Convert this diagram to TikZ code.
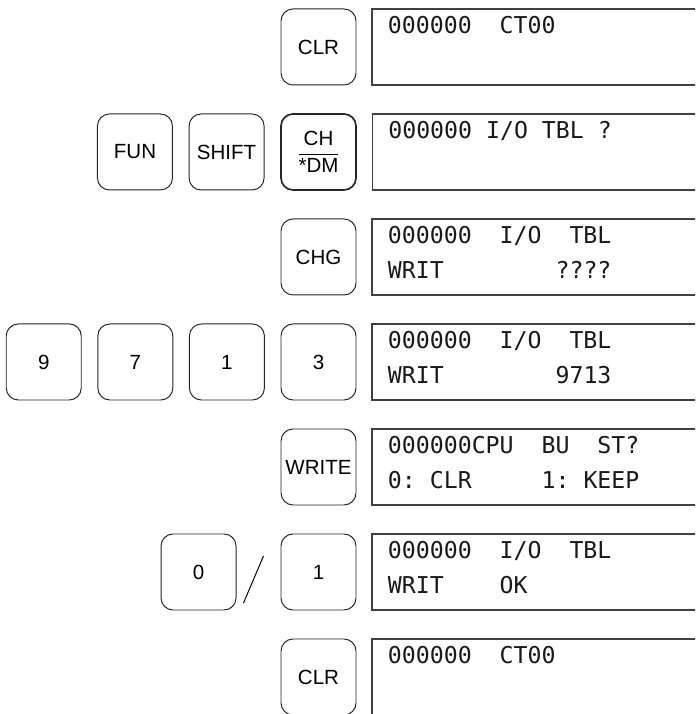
\documentclass[tikz,border=0pt]{standalone}
\usepackage{amsmath}
\usepackage{fontspec}
\setmainfont{Liberation Sans}
\newfontfamily\lcdfont{DejaVu Sans Mono}
\usetikzlibrary{positioning,calc}

\begin{document}
\begin{tikzpicture}[line width=0.7pt,
  key/.style={draw=black!85,rounded corners=0.3cm,minimum width=1.875cm,minimum height=1.9cm,inner sep=0pt,font=\fontsize{14.6}{16}\selectfont},
  panel/.style={draw=black!75,line width=0.9pt,minimum width=9cm,minimum height=1.9cm,inner sep=0pt},
  lcd/.style={anchor=base west,inner sep=0pt,text=black!90,font=\lcdfont\fontsize{16.5}{18}\selectfont}]
\useasboundingbox (0,0) rectangle (17.375,17.85);
\clip (0,0) rectangle (17.375,17.85);

\node[key] (clra) at (7.9625,16.675) {CLR};
\node[panel,right=0.375cm of clra] (scra) {};
\node[lcd] at ($(scra.north west)+(0.4,-0.625)$) {000000~~CT00};

\node[key,line width=1.2pt] (chdm) at (7.9625,14.05) {$\dfrac{\mbox{CH}}{\mbox{*DM}}$};
\node[key,left=0.39cm of chdm] (shift) {SHIFT};
\node[key,left=0.39cm of shift] (fun) {FUN};
\node[panel,right=0.375cm of chdm] (scrb) {};
\node[lcd] at ($(scrb.north west)+(0.4,-0.625)$) {000000 I/O TBL ?};

\node[key] (chg) at (7.9625,11.425) {CHG};
\node[panel,right=0.375cm of chg] (scrc) {};
\node[lcd] at ($(scrc.north west)+(0.4,-0.625)$) {000000~~I/O~~TBL};
\node[lcd] at ($(scrc.north west)+(0.4,-1.5)$) {WRIT~~~~~~~~????};

\node[key] (three) at (7.9625,8.8) {3};
\node[key,left=0.39cm of three] (one) {1};
\node[key,left=0.39cm of one] (seven) {7};
\node[key,left=0.39cm of seven] (nine) {9};
\node[panel,right=0.375cm of three] (scrd) {};
\node[lcd] at ($(scrd.north west)+(0.4,-0.625)$) {000000~~I/O~~TBL};
\node[lcd] at ($(scrd.north west)+(0.4,-1.5)$) {WRIT~~~~~~~~9713};

\node[key] (write) at (7.9625,6.175) {WRITE};
\node[panel,right=0.375cm of write] (scre) {};
\node[lcd] at ($(scre.north west)+(0.4,-0.625)$) {000000CPU~~BU~~ST?};
\node[lcd] at ($(scre.north west)+(0.4,-1.5)$) {0:~CLR~~~~~1:~KEEP};

\node[key] (keep) at (7.9625,3.55) {1};
\node[key,left=1.1cm of keep] (clear) {0};
\draw ($(clear.east)+(0.175,-0.775)$) -- ($(clear.east)+(0.675,0.4)$);
\node[panel,right=0.375cm of keep] (scrf) {};
\node[lcd] at ($(scrf.north west)+(0.4,-0.625)$) {000000~~I/O~~TBL};
\node[lcd] at ($(scrf.north west)+(0.4,-1.5)$) {WRIT~~~~OK};

\node[key] (clrb) at (7.9625,0.925) {CLR};
\node[panel,right=0.375cm of clrb] (scrg) {};
\node[lcd] at ($(scrg.north west)+(0.4,-0.625)$) {000000~~CT00};
\end{tikzpicture}
\end{document}
